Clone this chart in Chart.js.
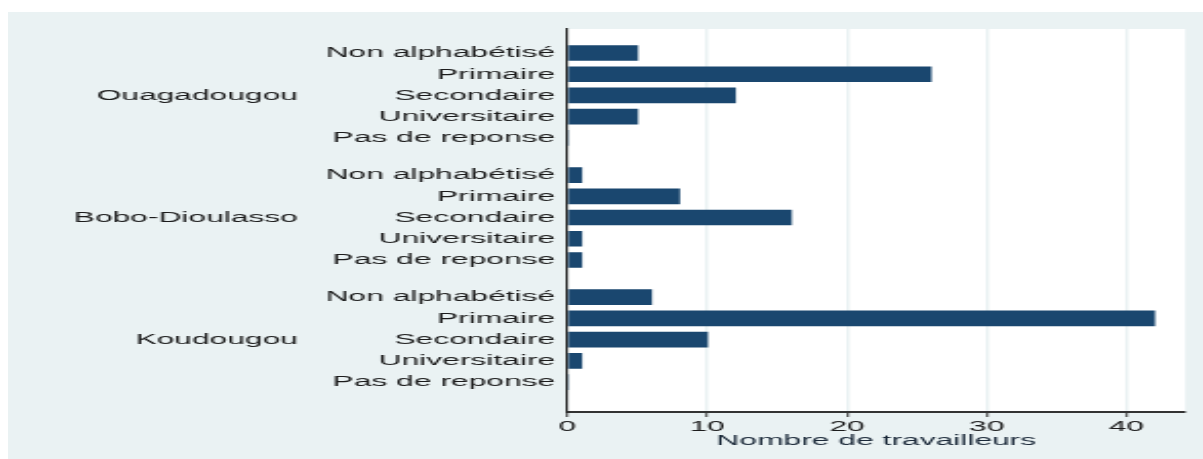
<!DOCTYPE html>
<html>
<head>
<meta charset="utf-8">
<script src="https://cdn.jsdelivr.net/npm/chart.js@4.4.1/dist/chart.umd.min.js"></script>
<style>
  html, body { margin: 0; padding: 0; background: #ffffff; width: 1203px; height: 459px; overflow: hidden; }
  #panel { position: absolute; left: 8px; top: 12px; width: 1195px; height: 447px; background: #eaf2f3; overflow: hidden; }
  #wrap { position: absolute; left: 0; top: 0; transform-origin: 0 0; }
</style>
</head>
<body>
<div id="panel"><div id="wrap"><canvas id="c"></canvas></div></div>
<script>
// ---- data ----
const villes = ['Ouagadougou', 'Bobo-Dioulasso', 'Koudougou'];
const niveaux = ['Non alphabétisé', 'Primaire', 'Secondaire', 'Universitaire', 'Pas de reponse'];
const ouagadougou = [5, 26, 12, 5, 0];
const boboDioulasso = [1, 8, 16, 1, 1];
const koudougou = [6, 42, 10, 1, 0];
const xTicks = [0, 10, 20, 30, 40];
const axisTitle = 'Nombre de travailleurs';

// ---- layout constants ----
const STRETCH = 2.05;           // the reference is horizontally stretched
const PANEL_W = 1195, PANEL_H = 447;
const PLOT_LEFT = 559.5, PLOT_RIGHT = 1177, PLOT_TOP = 17;  // in panel pixels
const GROUP_LABEL_RIGHT = 290;
const GROUP_GAP = 0.75;         // extra gap between groups (in row units)
const FONT = "'Liberation Sans', Arial, sans-serif";
const FSIZE = 15.5;
const TEXT = '#1c1c1c';

const seriesByGroup = [ouagadougou, boboDioulasso, koudougou];
const step = niveaux.length + GROUP_GAP;
const rowPos = [];
const points = [];
seriesByGroup.forEach((vals, g) => {
  vals.forEach((v, i) => {
    const pos = g * step + i;
    rowPos.push({ pos: pos, label: niveaux[i] });
    points.push({ x: v, y: pos });
  });
});
const groupCenters = villes.map((v, g) => ({ label: v, pos: g * step + Math.floor(niveaux.length / 2) }));

const W = PANEL_W / STRETCH;
const canvas = document.getElementById('c');
canvas.width = Math.round(W);
canvas.height = PANEL_H;
document.getElementById('wrap').style.transform = 'scaleX(' + STRETCH + ')';

const plotBg = {
  id: 'plotBg',
  beforeDraw(chart) {
    const { ctx, chartArea: a } = chart;
    ctx.save();
    ctx.fillStyle = '#ffffff';
    ctx.fillRect(a.left, a.top, a.right - a.left, a.bottom - a.top);
    ctx.restore();
  }
};

const groupLabels = {
  id: 'groupLabels',
  afterDraw(chart) {
    const { ctx } = chart;
    const ys = chart.scales.y;
    ctx.save();
    ctx.font = FSIZE + 'px ' + FONT;
    ctx.fillStyle = TEXT;
    ctx.textAlign = 'right';
    ctx.textBaseline = 'middle';
    groupCenters.forEach(gc => {
      ctx.fillText(gc.label, GROUP_LABEL_RIGHT / STRETCH, ys.getPixelForValue(gc.pos));
    });
    ctx.restore();
  }
};

new Chart(canvas, {
  type: 'bar',
  data: {
    datasets: [{
      data: points,
      backgroundColor: '#1a476f',
      borderWidth: 0,
      barThickness: 15
    }]
  },
  options: {
    indexAxis: 'y',
    responsive: false,
    animation: false,
    devicePixelRatio: 1,
    layout: { padding: { left: 0, right: (PANEL_W - PLOT_RIGHT) / STRETCH, top: PLOT_TOP, bottom: 0 } },
    plugins: { legend: { display: false }, tooltip: { enabled: false } },
    scales: {
      x: {
        type: 'linear',
        position: 'bottom',
        min: 0,
        max: 44.2,
        bounds: 'data',
        afterBuildTicks: s => { s.ticks = xTicks.map(v => ({ value: v })); },
        afterFit: s => { s.height = 47; },
        grid: { color: '#eaf2f3', lineWidth: 3 / STRETCH, tickColor: '#333333', tickLength: 5, tickWidth: 2 / STRETCH },
        border: { display: true, color: '#333333', width: 2 },
        ticks: { color: TEXT, font: { family: FONT, size: FSIZE }, padding: 0, maxRotation: 0 },
        title: { display: true, text: axisTitle, color: '#1c2a3a', font: { family: FONT, size: FSIZE }, padding: { top: 0, bottom: 9.2 } }
      },
      y: {
        type: 'linear',
        reverse: true,
        offset: false,
        bounds: 'data',
        min: -1.13,
        max: 16.91,
        afterBuildTicks: s => { s.ticks = rowPos.map(r => ({ value: r.pos })); },
        afterFit: s => { s.width = PLOT_LEFT / STRETCH; },
        grid: { display: false, drawTicks: false, offset: false },
        border: { display: true, color: '#2b2b2b', width: 2.3 / STRETCH },
        ticks: {
          color: TEXT,
          font: { family: FONT, size: FSIZE },
          padding: 6,
          autoSkip: false,
          callback: (v) => { const r = rowPos.find(rr => Math.abs(rr.pos - v) < 1e-6); return r ? r.label : ''; }
        }
      }
    }
  },
  plugins: [plotBg, groupLabels]
});
</script>
</body>
</html>
